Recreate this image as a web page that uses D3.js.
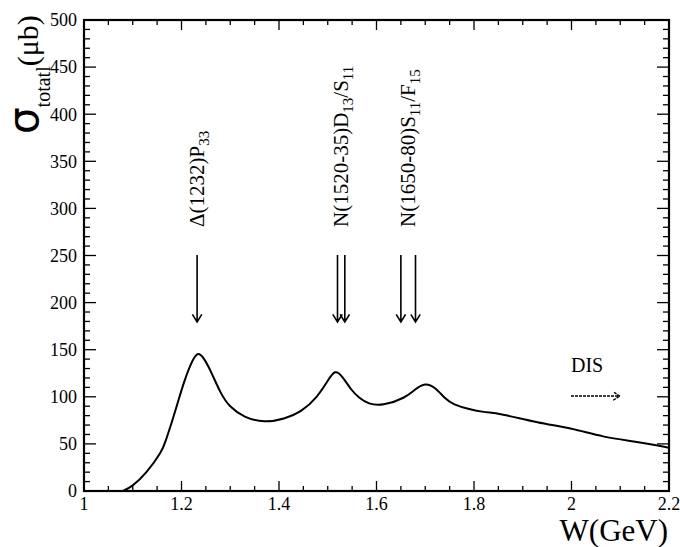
<!DOCTYPE html>
<html>
<head>
<meta charset="utf-8">
<script src="https://cdn.jsdelivr.net/npm/d3@7"></script>
<style>
body { margin: 0; background: #fff; }
text { font-family: "Liberation Serif", "Times New Roman", serif; fill: #000; }
</style>
</head>
<body>
<div id="chart"></div>
<script>
// curve
var w_vals = [1.08, 1.10, 1.128, 1.156, 1.168, 1.18, 1.193, 1.205, 1.218, 1.232, 1.245, 1.26, 1.28, 1.30,
              1.33, 1.37, 1.41, 1.445, 1.477, 1.50, 1.515, 1.53, 1.548, 1.565, 1.585, 1.615, 1.655, 1.68, 1.70,
              1.72, 1.74, 1.76, 1.79, 1.82, 1.86, 1.93, 2.0, 2.065, 2.134, 2.2];
var sigma_vals = [0, 6, 20, 40, 54, 73, 95, 115, 133, 145, 141, 127, 105, 90,
                  79, 74, 77, 85, 100, 117, 126, 121, 108, 99, 93, 92, 99, 108, 113,
                  109, 99, 92, 87, 84, 81, 73, 66, 58, 52, 46];

var x_ticks = [1, 1.2, 1.4, 1.6, 1.8, 2, 2.2];
var y_ticks = [0, 50, 100, 150, 200, 250, 300, 350, 400, 450, 500];

// resonance arrows
var res_w = [1.232, 1.520, 1.535, 1.650, 1.680];
var res_labels = [
    { w: 1.232, parts: [["\u0394(1232)P", 0], ["33", 1]] },
    { w: 1.527, parts: [["N(1520-35)D", 0], ["13", 1], ["/S", 0], ["11", 1]] },
    { w: 1.665, parts: [["N(1650-80)S", 0], ["11", 1], ["/F", 0], ["15", 1]] }
];

var width = 680, height = 547;
var svg = d3.select("#chart").append("svg").attr("width", width).attr("height", height);

var x = d3.scaleLinear().domain([1, 2.2]).range([84, 669]);
var y = d3.scaleLinear().domain([0, 500]).range([491, 20]);

var g = svg.append("g");

// ticks, inward on all four sides
function tick_lines(axis, minorStep, majorLen, minorLen) {
    var dom = axis == "x" ? x.domain() : y.domain();
    var n = Math.round((dom[1] - dom[0]) / minorStep);
    var majorEvery = axis == "x" ? 4 : 5;
    for (var i = 0; i <= n; i++) {
        var v = dom[0] + i * minorStep;
        var len = (i % majorEvery == 0) ? majorLen : minorLen;
        if (axis == "x") {
            g.append("line").attr("x1", x(v)).attr("x2", x(v)).attr("y1", 491).attr("y2", 491 - len)
                .attr("stroke", "#000").attr("stroke-width", 1.3);
            g.append("line").attr("x1", x(v)).attr("x2", x(v)).attr("y1", 20).attr("y2", 20 + len)
                .attr("stroke", "#000").attr("stroke-width", 1.3);
        } else {
            g.append("line").attr("y1", y(v)).attr("y2", y(v)).attr("x1", 84).attr("x2", 84 + len)
                .attr("stroke", "#000").attr("stroke-width", 1.3);
            g.append("line").attr("y1", y(v)).attr("y2", y(v)).attr("x1", 669).attr("x2", 669 - len)
                .attr("stroke", "#000").attr("stroke-width", 1.3);
        }
    }
}
tick_lines("x", 0.05, 10, 5);
tick_lines("y", 10, 12, 6);

g.append("rect").attr("x", 84).attr("y", 20).attr("width", 669 - 84).attr("height", 491 - 20)
    .attr("fill", "none").attr("stroke", "#000").attr("stroke-width", 2.2);

// tick labels
g.selectAll(".xl").data(x_ticks).enter().append("text")
    .attr("x", d => x(d)).attr("y", 510).attr("text-anchor", "middle")
    .attr("font-size", 18).text(d => d3.format("")(d));
g.selectAll(".yl").data(y_ticks).enter().append("text")
    .attr("x", 77).attr("y", d => y(d)).attr("dy", "0.35em").attr("text-anchor", "end")
    .attr("font-size", 18).text(d => d);

// axis titles
svg.append("text").attr("x", 668).attr("y", 541).attr("text-anchor", "end")
    .attr("font-size", 31).text("W(GeV)");

var yt = svg.append("text").attr("transform", "translate(38,134) rotate(-90)");
yt.append("tspan").attr("font-size", 42).attr("font-family", "DejaVu Sans").text("\u03c3");
yt.append("tspan").attr("font-size", 20).attr("dy", 12).text("totatl");
yt.append("tspan").attr("font-size", 30).attr("dy", -12).text("(\u03bcb)");

// curve
var pts = w_vals.map((d, i) => [d, sigma_vals[i]]);
var line = d3.line().x(d => x(d[0])).y(d => y(d[1])).curve(d3.curveNatural);
g.append("path").attr("d", line(pts)).attr("fill", "none").attr("stroke", "#000").attr("stroke-width", 2);

// resonance arrows
function arrow(x1, y1, x2, y2, head) {
    var a = Math.atan2(y2 - y1, x2 - x1);
    var p = d3.path();
    p.moveTo(x1, y1); p.lineTo(x2, y2);
    p.moveTo(x2 - head * Math.cos(a - 0.55), y2 - head * Math.sin(a - 0.55));
    p.lineTo(x2, y2);
    p.lineTo(x2 - head * Math.cos(a + 0.55), y2 - head * Math.sin(a + 0.55));
    return p.toString();
}
res_w.forEach(function(w) {
    g.append("path").attr("d", arrow(x(w), 255, x(w), 322, 9))
        .attr("fill", "none").attr("stroke", "#000").attr("stroke-width", 1.6);
});

res_labels.forEach(function(r) {
    var t = svg.append("text").attr("transform", "translate(" + (x(r.w) + 7) + ",227) rotate(-90)")
        .attr("font-size", 21);
    var shift = 0;
    r.parts.forEach(function(p) {
        var ts = t.append("tspan").text(p[0]);
        if (p[1] == 1) { ts.attr("font-size", 15).attr("dy", 5 - shift); shift = 5; }
        else { ts.attr("dy", -shift); shift = 0; }
    });
});

// DIS
svg.append("text").attr("x", 571).attr("y", 372).attr("font-size", 20).text("DIS");
g.append("path").attr("d", arrow(571, 396, 620, 396, 8))
    .attr("fill", "none").attr("stroke", "#000").attr("stroke-width", 1.3).attr("stroke-dasharray", "3,1");
</script>
</body>
</html>
